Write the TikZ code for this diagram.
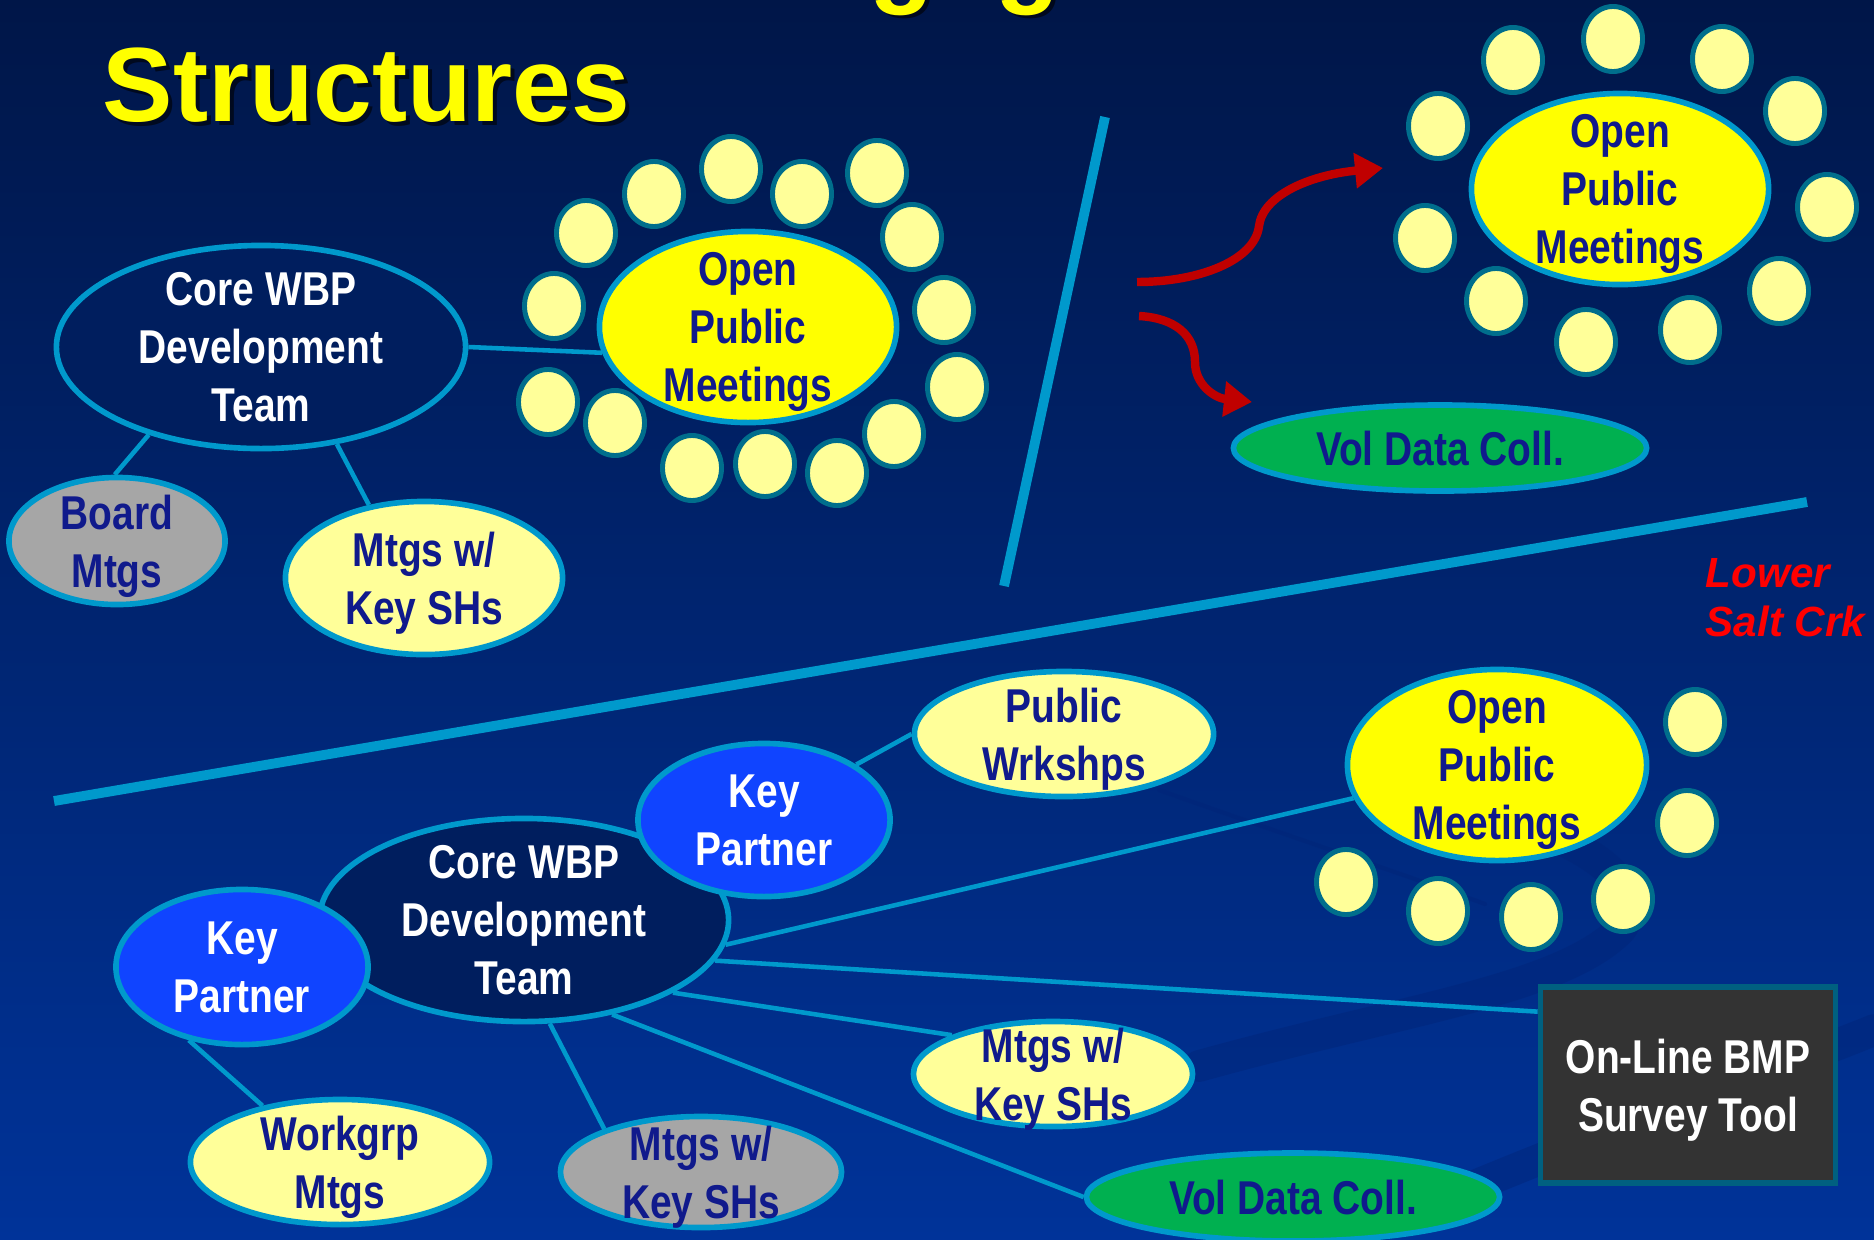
\documentclass[tikz,border=0pt]{standalone}
\usepackage{fontspec}
\setmainfont{Liberation Sans}
\newfontfamily\narrowfont{Liberation Sans}[FakeStretch=0.82]
\usetikzlibrary{shapes.geometric,arrows.meta}

\definecolor{ringblue}{RGB}{0,153,204}
\definecolor{dotrim}{RGB}{0,110,140}
\definecolor{paleyel}{RGB}{255,255,153}
\definecolor{brightyel}{RGB}{255,255,0}
\definecolor{corenavy}{RGB}{0,30,94}
\definecolor{partnerblue}{RGB}{16,68,255}
\definecolor{mtggray}{RGB}{166,166,166}
\definecolor{volgreen}{RGB}{0,176,80}
\definecolor{inkblue}{RGB}{16,26,140}
\definecolor{toolgray}{RGB}{51,51,51}
\definecolor{tooledge}{RGB}{0,96,128}
\definecolor{arrowred}{RGB}{192,0,0}
\definecolor{bgtop}{RGB}{0,22,72}
\definecolor{bgmid}{RGB}{0,42,128}
\definecolor{bgbot}{RGB}{0,51,153}
\definecolor{swirlblue}{RGB}{0,36,120}

\newcommand\lbl{\narrowfont\bfseries\fontsize{13.5}{16.5}\selectfont}
\newcommand\ttl{\bfseries\fontsize{30}{30}\selectfont}

\begin{document}
\begin{tikzpicture}[x=0.01cm, y=-0.01cm,
  bubble/.style={ellipse, draw=ringblue, line width=1.6pt, inner sep=0pt},
  dot/.style={ellipse, draw=dotrim, line width=1.4pt, fill=paleyel, inner sep=0pt,
    minimum width=0.59cm, minimum height=0.65cm},
  link/.style={draw=ringblue, line width=1.3pt},
  cut/.style={draw=ringblue, line width=2.8pt},
  swirl/.style={draw=swirlblue, opacity=0.45, line cap=round},
  swoop/.style={draw=arrowred, line width=2.4pt, -{Triangle[length=0.28cm, width=0.34cm]}},
  every label/.style={font=\lbl, align=center, inner sep=0pt, text depth=0pt, text=inkblue},
]
\useasboundingbox (0,0) rectangle (1874,1239);
\shade[top color=bgtop, middle color=bgmid, bottom color=bgbot] (0,0) rectangle (1874,1239);

% faint swirls of the backdrop
\draw[swirl, line width=1.2pt] (1159,790) .. controls (1300,840) and (1420,880) .. (1485,904);
\draw[swirl, line width=9pt] (1199,1066) .. controls (1400,1010) and (1560,990) .. (1620,930)
  .. controls (1660,880) and (1560,820) .. (1420,800);
\draw[swirl, line width=9pt] (1350,1239) .. controls (1550,1150) and (1750,1080) .. (1874,1030);

% title, first line cut off at the top
\begin{scope}
\clip (0,0) rectangle (1874,1239);
\node[anchor=base, font=\ttl, text=black, opacity=0.6] (peekAs) at (906,-4) {g};
\node[anchor=base, font=\ttl, text=brightyel] (peekA) at (902,-7) {g};
\node[anchor=base, font=\ttl, text=black, opacity=0.6] (peekBs) at (1032,-4) {g};
\node[anchor=base, font=\ttl, text=brightyel] (peekB) at (1028,-7) {g};
\end{scope}
\node[anchor=base west, inner sep=0pt, font=\ttl, text=black, opacity=0.6] (ttlShade) at (106,125) {Structures};
\node[anchor=base west, inner sep=0pt, font=\ttl, text=brightyel] (ttl) at (102,121) {Structures};

% dividers
\coordinate (cutA) at (1105,117);
\coordinate (cutB) at (1004,586);
\coordinate (cutC) at (54,801);
\coordinate (cutD) at (1807,502);
\draw[cut] (cutA) -- (cutB);
\draw[cut] (cutC) -- (cutD);

% upper left group
\node[bubble, fill=corenavy, minimum width=4.09cm, minimum height=2.03cm,
  label={[text=white]center:Core WBP\\Development\\Team}] (coreA) at (261,347) {};
\node[bubble, fill=brightyel, minimum width=2.97cm, minimum height=1.91cm,
  label={center:Open\\Public\\Meetings}] (opmA) at (748,327) {};
\node[bubble, fill=mtggray, minimum width=2.16cm, minimum height=1.27cm,
  label={center:Board\\Mtgs}] (boardA) at (117,541) {};
\node[bubble, fill=paleyel, minimum width=2.77cm, minimum height=1.53cm,
  label={center:Mtgs w/\\Key SHs}] (keyA) at (424,578) {};
\foreach \x/\y [count=\i] in {586/233, 654/194, 731/169, 802/194, 877/173,
  912/237, 944/310, 957/387, 894/434, 837/473, 765/464, 692/468,
  615/423, 548/402, 554/306}
  \node[dot] (dotA\i) at (\x,\y) {};
\draw[link] (coreA.0) -- (opmA.190);
\draw[link] (coreA.-142) -- (boardA.92);
\draw[link] (coreA.-52) -- (keyA.127);

% upper right group
\node[bubble, fill=brightyel, minimum width=2.97cm, minimum height=1.91cm,
  label={center:Open\\Public\\Meetings}] (opmB) at (1620,189) {};
\foreach \x/\y [count=\i] in {1513/60, 1613/39, 1722/59, 1795/111, 1827/207,
  1779/291, 1690/330, 1586/342, 1496/301, 1425/238, 1438/126}
  \node[dot] (dotB\i) at (\x,\y) {};
\node[bubble, fill=volgreen, minimum width=4.13cm, minimum height=0.86cm,
  label={center:Vol Data Coll.}] (volB) at (1440,448) {};
\coordinate (arrA0) at (1137,282);
\coordinate (arrA1) at (1383,168);
\coordinate (arrB0) at (1139,316);
\coordinate (arrB1) at (1252,402);
\draw[swoop] (arrA0) .. controls (1200,282) and (1255,260) .. (1259,226)
  .. controls (1263,195) and (1310,175) .. (arrA1);
\draw[swoop] (arrB0) .. controls (1175,318) and (1195,335) .. (1195,362)
  .. controls (1195,385) and (1215,398) .. (arrB1);
\node[anchor=west, align=left, inner sep=0pt, text=red,
  font=\bfseries\itshape\fontsize{12}{14}\selectfont] (lscNote) at (1705,598) {Lower\\Salt Crk};

% lower group
\node[bubble, fill=corenavy, minimum width=4.09cm, minimum height=2.03cm,
  label={[text=white]center:Core WBP\\Development\\Team}] (coreB) at (524,920) {};
\node[bubble, fill=partnerblue, minimum width=2.52cm, minimum height=1.53cm,
  label={[text=white]center:Key\\Partner}] (kpB1) at (764,820) {};
\node[bubble, fill=partnerblue, minimum width=2.52cm, minimum height=1.55cm,
  label={[text=white]center:Key\\Partner}] (kpB2) at (242,967) {};
\node[bubble, fill=paleyel, minimum width=2.99cm, minimum height=1.25cm,
  label={center:Public\\Wrkshps}] (pubW) at (1064,734) {};
\node[bubble, fill=brightyel, minimum width=2.99cm, minimum height=1.91cm,
  label={center:Open\\Public\\Meetings}] (opmC) at (1497,765) {};
\foreach \x/\y [count=\i] in {1695/722, 1687/823, 1623/899, 1531/917,
  1438/911, 1346/882}
  \node[dot] (dotC\i) at (\x,\y) {};
\node[bubble, fill=paleyel, minimum width=2.79cm, minimum height=1.05cm,
  label={center:Mtgs w/\\Key SHs}] (mtgB) at (1053,1074) {};
\node[bubble, fill=volgreen, minimum width=4.13cm, minimum height=0.88cm,
  label={center:Vol Data Coll.}] (volC) at (1293,1197) {};
\node[bubble, fill=mtggray, minimum width=2.81cm, minimum height=1.11cm,
  label={center:Mtgs w/\\Key SHs}] (mtgC) at (701,1172) {};
\node[bubble, fill=paleyel, minimum width=2.99cm, minimum height=1.25cm,
  label={center:Workgrp\\Mtgs}] (wkgB) at (340,1162) {};
\node[draw=tooledge, line width=1.6pt, fill=toolgray, inner sep=0pt,
  minimum width=2.95cm, minimum height=1.96cm,
  label={[text=white]center:On-Line BMP\\Survey Tool}] (toolB) at (1688,1085) {};
\draw[link] (kpB1.31) -- (pubW.180);
\draw[link] (kpB2.-126) -- (wkgB.144);
\draw[link] (coreB.-7) -- (opmC.193);
\draw[link] (coreB.-12) -- (toolB.154);
\draw[link] (coreB.-26) -- (mtgB.159);
\draw[link] (coreB.-47) -- (volC.180);
\draw[link] (coreB.-76) -- (mtgC.156);
\end{tikzpicture}
\end{document}
